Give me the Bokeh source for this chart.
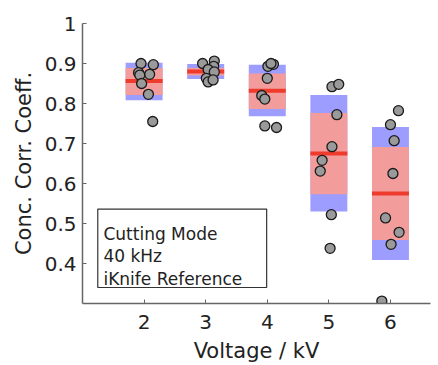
from bokeh.plotting import figure
from bokeh.models import ColumnDataSource, FixedTicker, Range1d, BoxAnnotation, Label
from bokeh.embed import file_html
from bokeh.resources import INLINE

# ---- data ----
voltages = [2, 3, 4, 5, 6]
mean_vals = [0.856, 0.880, 0.832, 0.675, 0.575]
ci_low = [0.821, 0.870, 0.786, 0.573, 0.459]
ci_high = [0.889, 0.889, 0.875, 0.776, 0.691]
sd_low = [0.808, 0.861, 0.768, 0.530, 0.409]
sd_high = [0.902, 0.899, 0.897, 0.821, 0.741]

pts_v2 = [0.900, 0.897, 0.877, 0.873, 0.871, 0.850, 0.823, 0.755]
jit_v2 = [-0.05, 0.15, -0.09, 0.09, -0.07, -0.04, 0.07, 0.14]
pts_v3 = [0.900, 0.906, 0.893, 0.885, 0.879, 0.863, 0.854, 0.859]
jit_v3 = [-0.05, 0.14, 0.13, 0.04, 0.14, 0.01, 0.04, 0.12]
pts_v4 = [0.893, 0.898, 0.900, 0.863, 0.820, 0.811, 0.744, 0.740]
jit_v4 = [0.01, 0.10, 0.06, 0.00, -0.09, -0.04, -0.04, 0.15]
pts_v5 = [0.842, 0.848, 0.772, 0.692, 0.658, 0.631, 0.522, 0.438]
jit_v5 = [0.05, 0.16, 0.13, 0.05, -0.11, -0.14, 0.04, 0.02]
pts_v6 = [0.782, 0.747, 0.707, 0.625, 0.514, 0.478, 0.448, 0.306]
jit_v6 = [0.13, 0.00, 0.06, 0.04, -0.08, 0.14, 0.01, -0.14]

y_ticks = [0.4, 0.5, 0.6, 0.7, 0.8, 0.9, 1.0]
legend_lines = ["Cutting Mode", "40 kHz", "iKnife Reference"]
x_title = "Voltage / kV"
y_title = "Conc. Corr. Coeff."

FONT = "DejaVu Sans"
half = 0.3

p = figure(width=438, height=365, output_backend="svg", toolbar_location=None,
           x_range=Range1d(1.0, 6.65), y_range=Range1d(0.3, 1.0),
           min_border_left=82, min_border_right=8, min_border_top=23, min_border_bottom=60)
p.background_fill_color = "white"
p.border_fill_color = "white"
p.outline_line_color = None
p.grid.visible = False

box_src = ColumnDataSource(dict(
    left=[v - half for v in voltages], right=[v + half for v in voltages],
    sd_lo=sd_low, sd_hi=sd_high, ci_lo=ci_low, ci_hi=ci_high,
    x0=[v - half for v in voltages], x1=[v + half for v in voltages], m=mean_vals))

p.quad(left="left", right="right", bottom="sd_lo", top="sd_hi", source=box_src,
       fill_color="#9d9dff", line_color=None)
p.quad(left="left", right="right", bottom="ci_lo", top="ci_hi", source=box_src,
       fill_color="#f39c9c", line_color=None)
p.segment(x0="x0", x1="x1", y0="m", y1="m", source=box_src,
          line_color="#ee3b2b", line_width=4)

px, py = [], []
for v, ys, js in zip(voltages, [pts_v2, pts_v3, pts_v4, pts_v5, pts_v6],
                     [jit_v2, jit_v3, jit_v4, jit_v5, jit_v6]):
    for y, j in zip(ys, js):
        px.append(v + j)
        py.append(y)
p.scatter(px, py, size=10, fill_color="#9a9a9a", line_color="#1a1a1a", line_width=1.3)

# legend-like text box
p.add_layout(BoxAnnotation(left=1.248, right=3.99, bottom=0.340, top=0.536,
                           fill_color="white", fill_alpha=1.0,
                           line_color="#333333", line_alpha=1.0, line_width=1.2))
for txt, yy in zip(legend_lines, [0.474, 0.419, 0.362]):
    p.add_layout(Label(x=1.34, y=yy, text=txt, text_font=FONT, text_font_size="17px",
                       text_color="#222222", text_baseline="alphabetic"))

p.xaxis.ticker = FixedTicker(ticks=voltages)
p.yaxis.ticker = FixedTicker(ticks=y_ticks)
p.yaxis.major_label_overrides = {1.0: "1", 1: "1"}
p.xaxis.axis_label = x_title
p.yaxis.axis_label = y_title
for ax in (p.xaxis, p.yaxis):
    ax.axis_label_text_font = FONT
    ax.axis_label_text_font_size = "21px"
    ax.axis_label_text_font_style = "normal"
    ax.axis_label_text_color = "#222222"
    ax.major_label_text_font = FONT
    ax.major_label_text_font_size = "20px"
    ax.major_label_text_color = "#222222"
    ax.axis_line_color = "#666666"
    ax.axis_line_width = 1.5
    ax.major_tick_line_color = "#666666"
    ax.major_tick_in = 4
    ax.major_tick_out = 0
    ax.minor_tick_line_color = None
p.xaxis.major_label_standoff = 11
p.yaxis.major_label_standoff = 6
p.xaxis.axis_label_standoff = 7
p.yaxis.axis_label_standoff = 6

open("out.html", "w").write(file_html(p, INLINE))
